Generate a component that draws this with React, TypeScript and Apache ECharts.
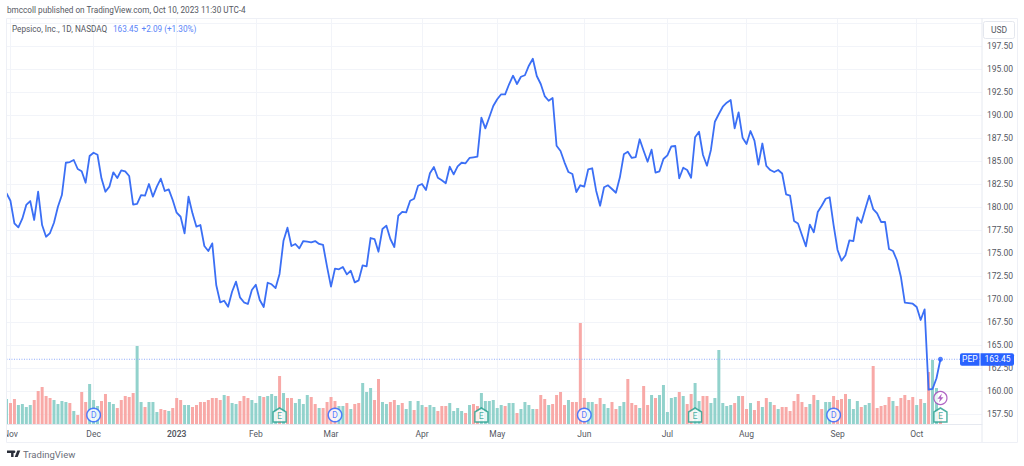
import React, { useEffect, useRef } from "react";
import * as echarts from "echarts";

const closes = [
  181.49, 180.68, 178.23, 177.79, 178.73, 180.22, 180.65, 178.59, 181.66, 178.04,
  176.77, 177.17, 178.29, 180.03, 181.3, 184.81, 184.89, 185.11, 184.13, 183.88,
  182.64, 185.54, 185.9, 185.68, 183.12, 181.66, 182.21, 183.77, 183.15, 183.99,
  183.88, 183.37, 180.25, 180.33, 181.3, 181.23, 182.5, 181.12, 182.21, 183.08,
  181.74, 181.92, 180.76, 179.38, 178.94, 177.14, 181.12, 179.31, 177.86, 178.04,
  175.76, 175.22, 176.05, 171.52, 169.64, 169.81, 169.16, 170.79, 171.88, 170.18,
  169.64, 169.46, 170.98, 171.55, 169.89, 169.13, 171.77, 171.6, 171.19, 172.72,
  176.34, 177.75, 175.76, 175.98, 175.51, 176.3, 176.23, 176.16, 176.3, 175.98,
  175.87, 173.51, 171.34, 173.29, 173.23, 173.48, 172.68, 173.07, 171.81, 172.03,
  173.66, 173.55, 176.63, 176.52, 175.14, 177.61, 177.97, 176.52, 175.65, 179.05,
  179.46, 179.42, 180.68, 180.9, 182.31, 182.5, 181.85, 183.66, 184.35, 183.18,
  182.9, 182.58, 184.38, 183.55, 184.42, 184.81, 184.75, 185.33, 185.4, 185.47,
  189.71, 188.55, 189.75, 190.98, 191.71, 192.25, 192.25, 193.34, 194.27, 193.37,
  194.16, 194.32, 195.36, 196.12, 194.24, 193.37, 192.06, 191.55, 191.85, 186.66,
  186.09, 184.86, 183.8, 183.59, 181.63, 182.36, 182.21, 184.1, 184.21, 181.77,
  180.14, 182.14, 182.36, 181.96, 181.55, 183.23, 185.73, 186.01, 185.33, 185.43,
  187.36, 186.12, 184.92, 186.23, 183.73, 183.88, 185.22, 185.62, 186.6, 186.63,
  183.12, 184.27, 184.02, 183.18, 187.58, 188.18, 185.65, 184.49, 186.2, 189.27,
  190.11, 190.9, 191.34, 191.63, 188.55, 190.29, 187.53, 186.85, 188.26, 187.21,
  184.62, 186.9, 184.46, 184.02, 183.8, 184.02, 183.64, 181.38, 181.23, 178.48,
  178.21, 176.96, 175.73, 178.08, 177.25, 179.46, 180.14, 180.9, 181.06, 178.04,
  175.33, 174.16, 174.75, 176.38, 176.3, 178.88, 178.29, 179.78, 181.23, 179.78,
  179.31, 178.37, 178.37, 175.43, 175.22, 174.21, 172.42, 169.6, 169.56, 169.49,
  169.13, 167.72, 168.88, 160.14, 160.22, 161.38, 163.45,
];

const volumes = [
  25, 21, 25, 19, 20, 17, 19, 24, 33, 37, 28, 26, 24, 20, 23, 22, 21, 13, 9, 32,
  22, 40, 24, 18, 23, 30, 22, 20, 16, 24, 28, 27, 31, 78, 22, 17, 22, 22, 12, 15,
  14, 13, 16, 26, 24, 19, 19, 17, 19, 22, 22, 24, 26, 26, 24, 29, 28, 21, 20, 23,
  28, 26, 24, 21, 28, 27, 28, 30, 28, 48, 31, 26, 26, 21, 25, 20, 29, 27, 20, 16,
  16, 22, 27, 23, 18,
  18, 21, 15, 20, 21, 41, 32, 36, 24, 45, 22, 20, 22, 24, 19, 21, 15, 23, 14, 23,
  19, 17, 19, 17, 13, 18, 18, 21, 13, 16, 13, 11, 19, 20, 18, 31, 23, 23, 24, 16,
  19, 18, 21, 21, 11, 15, 22, 19, 15, 15, 29, 25, 19, 20, 29, 32, 19, 24, 22, 22,
  101, 26, 22, 22, 20, 26, 20, 16, 22, 15, 18, 22, 45, 21, 19, 16, 38, 19, 29, 26,
  29, 39, 12, 26, 27, 32,
  28, 20, 30, 41, 23, 28, 28, 21, 26, 74, 21, 18, 19, 21, 28, 28, 15, 21, 14, 23,
  17, 26, 22, 19, 15, 17, 17, 13, 23, 30, 22, 17, 20, 29, 24, 15, 22, 22, 28, 24,
  25, 30, 25, 15, 23, 17, 19, 21, 58, 16, 18, 19, 27, 23, 18, 26, 29, 24, 27, 19,
  25, 21, 52, 64, 36, 10,
];

const volumeDirections = (
  "grrggggrrr" + "rrggggrgrr" + "rgggrrggrr" + "rrrggrgggr" + "rgrrrggrrr" + "rrrrrgrggr" + "rrgggrgggr" + "grrggggrrg" + "rrrrg" +
  "grgrrgggrr" + "ggrrgrggrg" + "grggrrrggg" + "grgrrggggg" + "grggrggggr" + "rrgrrrrgrr" + "rrggrrggrr" + "ggrrrgrrgr" + "gggggr" +
  "grrggrrggg" + "gggrgrrgrr" + "grgrgrrrrr" + "rrgrgrggrr" + "rrgggrggrr" + "rrrgrrrrrg" + "rgrggr"
).split("");

const monthLabels = ["Nov", "Dec", "2023", "Feb", "Mar", "Apr", "May", "Jun", "Jul", "Aug", "Sep", "Oct"];
const monthIndexes = [1, 22, 43, 63, 82, 105, 124, 146, 167, 187, 210, 230];
const dividendIndexes = [22, 83, 146, 209];
const earningsIndexes = [69, 120, 174, 236];
const newsIndexes = [236];
const slotCount = 247;

const TEXT = "#555862";
const BLUE = "#2962ff";
const LINE_BLUE = "#3b6ff5";
const GRID = "#f2f4f9";
const GREEN = "#92d2cc";
const RED = "#f8a9a7";
const MARK_GREEN = "#1f9d8b";
const PURPLE = "#9c3fb5";
const FONT = "Roboto, sans-serif";

const categories = Array.from({ length: slotCount }, (_, i) => {
  const m = monthIndexes.indexOf(i);
  return m >= 0 ? monthLabels[m] : "";
});
const isMonth = (i: number) => monthIndexes.includes(i);

echarts.graphic.registerShape(
  "tvLogo",
  echarts.graphic.extendPath(
    "M0 0H8V8H5V3H0Z M13 8H9.4L12.6 0H16.2Z M10.2 1.6A1.6 1.6 0 1 1 7 1.6A1.6 1.6 0 1 1 10.2 1.6Z",
    {}
  ) as any
);

const EARNING_SYMBOL = "path://M6.5 0L13 4V14H0V4Z";
const FLASH_SYMBOL = "path://M7 0L1 7H4.4L3 12L9 5H5.6Z";

export default function App() {
  const ref = useRef<HTMLDivElement>(null);

  useEffect(() => {
    document.body.style.margin = "0";
    const chart = echarts.init(ref.current!, null, { renderer: "svg" });
    const last = closes[closes.length - 1];
    const lastIndex = closes.length - 1;

    chart.setOption({
      animation: false,
      backgroundColor: "#ffffff",
      textStyle: { fontFamily: FONT },
      grid: [
        { left: 4.5, width: 977.5, top: 23, height: 414 },
        { left: 4.5, width: 977.5, top: 18, height: 406 },
      ],
      xAxis: [
        {
          type: "category",
          gridIndex: 0,
          data: categories,
          show: false,
        },
        {
          type: "category",
          gridIndex: 1,
          data: categories,
          axisLine: { show: true, onZero: false, lineStyle: { color: "#e6e9f0", width: 1 } },
          axisTick: { show: false },
          splitLine: {
            show: true,
            alignWithLabel: true,
            interval: (i: number) => isMonth(i),
            lineStyle: { color: GRID, width: 1 },
          },
          axisLabel: {
            show: true,
            interval: (i: number) => isMonth(i),
            alignWithLabel: true,
            margin: 5,
            color: TEXT,
            fontSize: 8.5,
            fontFamily: FONT,
            formatter: (v: string) => (v === "2023" ? "{b|2023}" : v),
            rich: { b: { fontWeight: 600, fontSize: 8.5, color: TEXT, fontFamily: FONT } },
          },
        },
      ],
      yAxis: [
        {
          type: "value",
          gridIndex: 0,
          position: "right",
          min: 155,
          max: 200,
          interval: 2.5,
          axisLine: { show: false },
          axisTick: { show: false },
          splitLine: { show: true, showMinLine: false, lineStyle: { color: GRID, width: 1 } },
          axisLabel: {
            showMinLabel: false,
            showMaxLabel: false,
            margin: 5,
            color: TEXT,
            fontSize: 8.5,
            fontFamily: FONT,
            formatter: (v: number) => v.toFixed(2),
          },
        },
        {
          type: "value",
          gridIndex: 1,
          min: 0,
          max: 406,
          show: false,
          splitLine: { show: false },
        },
      ],
      series: [
        {
          type: "bar",
          xAxisIndex: 1,
          yAxisIndex: 1,
          barWidth: 3,
          z: 1,
          data: volumes.map((v, i) => ({
            value: v,
            itemStyle: { color: volumeDirections[i] === "g" ? GREEN : RED },
          })),
        },
        {
          type: "line",
          xAxisIndex: 0,
          yAxisIndex: 0,
          z: 3,
          symbol: "none",
          showSymbol: false,
          silent: true,
          lineStyle: { color: "#8fabfb", type: [1, 1.5], width: 1 },
          data: [[0, last], [slotCount - 1, last]],
        },
        {
          type: "line",
          xAxisIndex: 0,
          yAxisIndex: 0,
          data: closes,
          showSymbol: false,
          symbol: "none",
          z: 5,
          lineStyle: { color: LINE_BLUE, width: 1.8, join: "round" },
        },
        {
          type: "scatter",
          xAxisIndex: 0,
          yAxisIndex: 0,
          z: 6,
          symbol: "circle",
          symbolSize: 5,
          itemStyle: { color: BLUE },
          data: [[lastIndex, last]],
        },
        {
          type: "scatter",
          xAxisIndex: 1,
          yAxisIndex: 1,
          z: 7,
          symbol: "circle",
          symbolSize: 13.5,
          itemStyle: { color: "#ffffff", borderColor: BLUE, borderWidth: 1.5 },
          label: { show: true, position: "inside", formatter: "D", color: BLUE, fontSize: 9, fontFamily: FONT },
          data: dividendIndexes.map((i) => [i, 9]),
        },
        {
          type: "scatter",
          xAxisIndex: 1,
          yAxisIndex: 1,
          z: 7,
          symbol: EARNING_SYMBOL,
          symbolSize: [13, 14],
          itemStyle: { color: "#ffffff", borderColor: MARK_GREEN, borderWidth: 1.5 },
          label: { show: true, position: "inside", formatter: "E", color: MARK_GREEN, fontSize: 9, fontFamily: FONT, offset: [0, 1] },
          data: earningsIndexes.map((i) => [i, 9]),
        },
        {
          type: "scatter",
          xAxisIndex: 1,
          yAxisIndex: 1,
          z: 7,
          symbol: "circle",
          symbolSize: 13,
          itemStyle: { color: "#ffffff", borderColor: PURPLE, borderWidth: 1.2 },
          data: newsIndexes.map((i) => [i, 26]),
        },
        {
          type: "scatter",
          xAxisIndex: 1,
          yAxisIndex: 1,
          z: 8,
          symbol: FLASH_SYMBOL,
          symbolSize: [6, 9],
          itemStyle: { color: PURPLE },
          data: newsIndexes.map((i) => [i, 26]),
        },
      ],
    });

    const priceY = chart.convertToPixel({ yAxisIndex: 0 }, last) as number;

    chart.setOption({
      graphic: [
        { type: "rect", z: 50, silent: true, shape: { x: 0, y: 18, width: 6, height: 424 }, style: { fill: "#ffffff" } },
        { type: "rect", z: 51, silent: true, shape: { x: 6.5, y: 18.5, width: 1011, height: 424 }, style: { fill: "none", stroke: "#eef0f6", lineWidth: 1 } },
        { type: "line", z: 51, silent: true, shape: { x1: 982, y1: 18, x2: 982, y2: 442 }, style: { stroke: "#e6e9f0", lineWidth: 1 } },
        { type: "text", z: 60, style: { text: "bmccoll published on TradingView.com, Oct 10, 2023 11:30 UTC-4", x: 7, y: 10, fill: TEXT, font: `8.2px ${FONT}`, textVerticalAlign: "middle" } },
        { type: "text", z: 60, style: { text: "Pepsico, Inc., 1D, NASDAQ", x: 12, y: 28.5, fill: TEXT, font: `8.2px ${FONT}`, textVerticalAlign: "middle" } },
        { type: "text", z: 60, style: { text: "163.45", x: 113, y: 28.5, fill: "#5b85f8", font: `8.2px ${FONT}`, textVerticalAlign: "middle" } },
        { type: "text", z: 60, style: { text: "+2.09 (+1.30%)", x: 141.5, y: 28.5, fill: "#5b85f8", font: `8.2px ${FONT}`, textVerticalAlign: "middle" } },
        { type: "rect", z: 60, shape: { x: 983.5, y: 21.5, width: 31, height: 17, r: 2 }, style: { fill: "#ffffff", stroke: "#e4e7ee", lineWidth: 1 } },
        { type: "text", z: 61, style: { text: "USD", x: 999, y: 30, fill: TEXT, font: `8.5px ${FONT}`, textAlign: "center", textVerticalAlign: "middle" } },
        { type: "rect", z: 60, shape: { x: 960, y: priceY - 6, width: 19.5, height: 12.5, r: [2, 0, 0, 2] }, style: { fill: BLUE } },
        { type: "text", z: 61, style: { text: "PEP", x: 969.8, y: priceY + 0.2, fill: "#ffffff", font: `8.5px ${FONT}`, textAlign: "center", textVerticalAlign: "middle" } },
        { type: "rect", z: 60, shape: { x: 980.5, y: priceY - 6, width: 33.5, height: 12.5, r: [0, 2, 2, 0] }, style: { fill: BLUE } },
        { type: "text", z: 61, style: { text: "163.45", x: 997.5, y: priceY + 0.2, fill: "#ffffff", font: `8.5px ${FONT}`, textAlign: "center", textVerticalAlign: "middle" } },
        { type: "tvLogo", z: 60, x: 7, y: 450.5, scaleX: 0.82, scaleY: 0.82, style: { fill: "#2a2e39" } },
        { type: "text", z: 60, style: { text: "TradingView", x: 23, y: 454.5, fill: "#6a6d78", font: `9.5px ${FONT}`, textVerticalAlign: "middle" } },
      ],
    });

    return () => chart.dispose();
  }, []);

  return <div ref={ref} style={{ width: 1024, height: 466 }} />;
}
